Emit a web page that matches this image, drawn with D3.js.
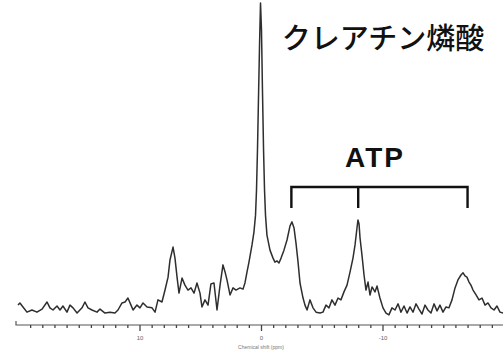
<!DOCTYPE html>
<html><head><meta charset="utf-8">
<script src="https://cdn.jsdelivr.net/npm/d3@7"></script>
<style>html,body{margin:0;padding:0;background:#fff;overflow:hidden}</style>
</head><body>
<svg id="c" width="503" height="351"></svg>
<script>
// chemical shift (ppm)
const ppm = [20.00,19.84,19.59,19.26,18.85,18.44,18.02,17.61,17.37,17.12,16.79,16.54,16.30,15.97,15.72,15.47,15.14,14.73,14.49,14.24,13.91,13.50,13.25,12.84,12.43,12.02,11.77,11.44,11.19,10.95,10.70,10.53,10.21,9.96,9.71,9.38,8.97,8.72,8.48,8.15,7.90,7.65,7.49,7.24,7.08,6.91,6.75,6.50,6.26,6.01,5.76,5.51,5.27,5.02,4.86,4.61,4.36,4.12,3.87,3.62,3.37,3.13,2.96,2.80,2.55,2.30,2.06,1.73,1.48,1.32,1.15,0.99,0.74,0.58,0.45,0.37,0.29,0.21,0.12,0.04,-0.04,-0.12,-0.21,-0.29,-0.37,-0.49,-0.74,-0.99,-1.15,-1.32,-1.48,-1.65,-1.89,-2.14,-2.39,-2.55,-2.72,-2.88,-3.05,-3.21,-3.46,-3.62,-3.79,-4.03,-4.28,-4.53,-4.86,-5.10,-5.35,-5.60,-5.84,-6.09,-6.34,-6.58,-6.83,-7.08,-7.33,-7.57,-7.74,-7.90,-7.98,-8.07,-8.15,-8.31,-8.48,-8.64,-8.81,-8.97,-9.14,-9.38,-9.55,-9.79,-10.04,-10.29,-10.53,-10.78,-11.03,-11.28,-11.52,-11.77,-12.02,-12.26,-12.51,-12.76,-13.00,-13.25,-13.50,-13.74,-13.99,-14.24,-14.49,-14.73,-14.98,-15.23,-15.47,-15.72,-15.97,-16.21,-16.46,-16.63,-16.79,-16.95,-17.12,-17.28,-17.45,-17.70,-17.94,-18.19,-18.44,-18.68,-18.93,-19.18,-19.42,-19.67,-19.92];
// signal intensity (relative, PCr peak = 100)
const intensity = [1.6,2.3,1.0,-0.7,0,-0.7,0.3,2.6,0.7,0,1.3,0,1.3,-0.7,1.6,0.7,-1.0,0.7,2.6,0.7,0,-0.7,0.3,-1.0,-0.7,-1.0,0,2.3,2.6,3.9,1.6,0,1.6,0.7,2.3,1.0,0.7,-0.7,3.3,2.6,6.5,10.7,16.3,20.5,16.9,10.7,5.5,10.4,8.1,6.5,7.2,5.5,8.8,5.5,1.0,3.3,1.6,8.5,8.8,0,8.1,14.7,12.4,9.8,4.9,7.2,6.5,7.2,6.8,8.8,12.4,15.6,21.2,25.4,30.9,39.1,52.1,68.4,86.3,100,91.2,71.7,52.1,39.1,30.9,24.4,19.5,16.9,15.6,16.0,15.3,16.9,19.5,22.8,27.4,28.7,26.7,21.8,15.6,8.8,3.9,1.6,0,3.3,0.7,-0.7,-1.0,-0.7,1.6,0.7,3.3,1.6,3.9,3.3,5.9,8.1,12.4,16.9,21.2,26.7,29.3,28.0,23.5,17.9,11.4,6.5,9.1,4.9,7.5,5.9,7.8,3.9,0.7,-1.0,-1.6,0.7,0,2.0,-0.7,1.3,-1.0,1.0,-0.7,2.0,0.3,-1.3,1.6,0,-1.0,2.0,-0.3,1.6,-0.7,1.0,0.7,3.3,7.2,9.8,11.4,12.1,11.1,10.7,9.1,8.1,6.5,4.9,3.3,3.9,1.6,2.3,0.7,0,1.3,-0.7,-1.0];
const tickValues = d3.range(20, -21, -1);
const tickLabels = {"10":"10","0":"0","-10":"-10"};
const atpPeaks = [-2.5, -8.0, -17.0];
const labelPCr = "クレアチン燐酸";
const labelATP = "ATP";
const axisTitle = "Chemical shift (ppm)";

const svg = d3.select("#c");
const x = d3.scaleLinear().domain([20, -20]).range([18, 504]);
const y = d3.scaleLinear().domain([0, 100]).range([310, 3]);

// axis
const axisY = 325;
const ax = svg.append("g").attr("transform", `translate(0,${axisY})`)
  .call(d3.axisBottom(x).tickValues(tickValues.filter(v=>v<20)).tickSize(3)
    .tickFormat(d => tickLabels[String(d)] || ""));
ax.select(".domain").attr("d", `M16,-4V0H503`).attr("stroke", "#555").attr("stroke-width", 1.2).attr("fill","none");
ax.selectAll(".tick line").attr("stroke", "#444").attr("stroke-width", 1.3)
  .attr("y2", d => (d % 10 === 0 ? 6 : 3));
ax.selectAll(".tick text").attr("y", 11).attr("font-size", 6).attr("fill", "#666")
  .attr("font-family", "Liberation Sans, Arial, sans-serif");
svg.append("text").attr("x", x(0)).attr("y", 349).attr("text-anchor", "middle")
  .attr("font-size", 5).attr("fill", "#777").attr("font-family", "Liberation Sans, Arial, sans-serif")
  .text(axisTitle);

// spectrum
const data = ppm.map((p, i) => [p, intensity[i]]);
const line = d3.line().x(d => x(d[0])).y(d => y(d[1])).curve(d3.curveLinear);
svg.append("path").datum(data).attr("d", line)
  .attr("fill", "none").attr("stroke", "#2e2e2e").attr("stroke-width", 1.5).attr("stroke-linejoin", "round");

// ATP bracket
const bTop = 187, bBot = 208;
const bx = atpPeaks.map(p => x(p));
svg.append("path")
  .attr("d", `M${bx[0]},${bBot}V${bTop}H${bx[2]}V${bBot}M${bx[1]},${bTop}V${bBot}`)
  .attr("fill", "none").attr("stroke", "#111").attr("stroke-width", 2.4);

svg.append("text").attr("x", 375).attr("y", 167).attr("text-anchor", "middle")
  .attr("font-family", "Liberation Sans, Arial, sans-serif").attr("font-weight", "bold")
  .attr("font-size", 28).attr("letter-spacing", 2).attr("fill", "#111").text(labelATP);

svg.append("text").attr("x", 383).attr("y", 49).attr("text-anchor", "middle")
  .attr("font-family", "Noto Sans CJK JP, sans-serif").attr("font-weight", 500)
  .attr("font-size", 29).attr("fill", "#111").text(labelPCr);
</script>
</body></html>
